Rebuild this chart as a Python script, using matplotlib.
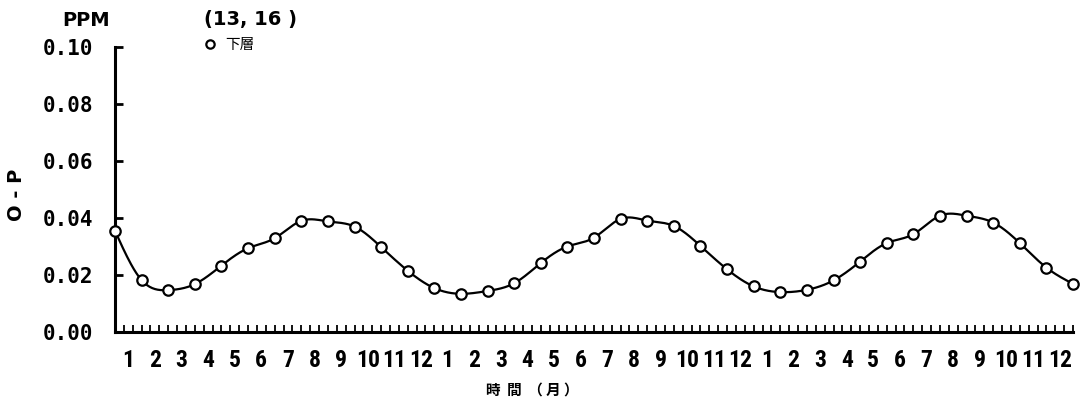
import numpy as np
import matplotlib
matplotlib.use("Agg")
import matplotlib.pyplot as plt
from matplotlib.lines import Line2D
from matplotlib.ticker import FixedLocator, FuncFormatter
from matplotlib import font_manager

# Monthly O-P concentration (ppm) in the lower layer, sampled at the start of each month
months_elapsed = list(range(37))
op_lower = [0.0355, 0.0182, 0.0147, 0.0168, 0.0233, 0.0294, 0.0329, 0.0390, 0.0388,
            0.0370, 0.0298, 0.0215, 0.0154, 0.0134, 0.0144, 0.0171, 0.0242, 0.0300,
            0.0331, 0.0397, 0.0391, 0.0372, 0.0302, 0.0220, 0.0160, 0.0140, 0.0148,
            0.0181, 0.0247, 0.0312, 0.0343, 0.0408, 0.0408, 0.0384, 0.0312, 0.0226,
            0.0169]
month_labels = [str(m) for m in range(1, 13)] * 3
y_ticks = [0.00, 0.02, 0.04, 0.06, 0.08, 0.10]


def natural_spline(x, y, n=20):
    """Smooth rendering path through the points (natural cubic spline)."""
    x = np.asarray(x, float)
    y = np.asarray(y, float)
    m = len(x)
    h = np.diff(x)
    A = np.zeros((m, m))
    b = np.zeros(m)
    A[0, 0] = A[-1, -1] = 1.0
    for i in range(1, m - 1):
        A[i, i - 1] = h[i - 1]
        A[i, i] = 2 * (h[i - 1] + h[i])
        A[i, i + 1] = h[i]
        b[i] = 3 * ((y[i + 1] - y[i]) / h[i] - (y[i] - y[i - 1]) / h[i - 1])
    c = np.linalg.solve(A, b)
    xs, ys = [], []
    for i in range(m - 1):
        t = np.linspace(0, h[i], n, endpoint=False)
        bi = (y[i + 1] - y[i]) / h[i] - h[i] * (2 * c[i] + c[i + 1]) / 3
        di = (c[i + 1] - c[i]) / (3 * h[i])
        xs.append(x[i] + t)
        ys.append(y[i] + bi * t + c[i] * t ** 2 + di * t ** 3)
    xs.append([x[-1]])
    ys.append([y[-1]])
    return np.concatenate(xs), np.concatenate(ys)


# pick a narrow face for the month numbers if one is available
names = {f.name for f in font_manager.fontManager.ttflist}
narrow = [n for n in ("Liberation Sans Narrow", "DejaVu Sans Condensed", "Roboto Condensed")
          if n in names]
month_family = narrow[0] if narrow else "Liberation Sans"

fig = plt.figure(figsize=(10.89, 4.0), dpi=100)
ax = fig.add_axes([115 / 1089, 1 - 332 / 400, (1073 - 115) / 1089, (332 - 47) / 400])

sx, sy = natural_spline(months_elapsed, op_lower)
ax.plot(sx, sy, color="black", lw=1.6, clip_on=False, zorder=2)
ax.plot(months_elapsed, op_lower, ls="none", marker="o", ms=7.5, mfc="white",
        mec="black", mew=1.6, clip_on=False, zorder=3)

ax.set_xlim(0, 36)
ax.set_ylim(0, 0.10)

for side in ("top", "right"):
    ax.spines[side].set_visible(False)
ax.spines["left"].set_linewidth(2.2)
ax.spines["bottom"].set_linewidth(2.2)

# x axis: month labels centred in each month, 10-day ticks pointing up
ax.xaxis.set_major_locator(FixedLocator([k + 0.5 for k in range(36)]))
ax.set_xticklabels(month_labels)
ax.xaxis.set_minor_locator(FixedLocator([k / 3 for k in range(1, 109)]))
ax.tick_params(axis="x", which="major", length=0, pad=12)
ax.tick_params(axis="x", which="minor", direction="in", length=5, width=1.3)
for lbl in ax.get_xticklabels():
    lbl.set_fontfamily([month_family, "DejaVu Sans"])
    lbl.set_fontweight("bold")
    lbl.set_fontsize(17 if narrow else 14)

# y axis
ax.yaxis.set_major_locator(FixedLocator(y_ticks))
ax.yaxis.set_major_formatter(FuncFormatter(lambda v, p: f"{v:.2f}"))
ax.tick_params(axis="y", direction="in", length=6, width=2, pad=16)
for lbl in ax.get_yticklabels():
    lbl.set_fontfamily("DejaVu Sans Mono")
    lbl.set_fontweight("bold")
    lbl.set_fontsize(15)

fig.text(16 / 1089, 1 - 195 / 400, "O - P", rotation=90, ha="center", va="center",
         fontsize=14, fontweight="bold", family="DejaVu Sans")
fig.text(86 / 1089, 1 - 20 / 400, "PPM", ha="center", va="center",
         fontsize=14, fontweight="bold", family="DejaVu Sans")
fig.text(250 / 1089, 1 - 19 / 400, "(13, 16 )", ha="center", va="center",
         fontsize=14, fontweight="bold", family="DejaVu Sans")
fig.text(532 / 1089, 1 - 390 / 400, "時  間  （ 月 ）", ha="center", va="center",
         fontsize=10.5, fontweight="bold", family=["Noto Sans CJK JP", "DejaVu Sans"])

handle = Line2D([], [], ls="none", marker="o", ms=6, mfc="white", mec="black", mew=1.6)
fig.legend([handle], ["下層"], loc="center left", bbox_to_anchor=(203 / 1089, 1 - 45 / 400),
           frameon=False, handlelength=1.0, handletextpad=0.5, borderpad=0, borderaxespad=0,
           prop={"family": ["Noto Sans CJK JP", "DejaVu Sans"], "size": 10.5})

fig.savefig("out.png", dpi=100, facecolor="white")
